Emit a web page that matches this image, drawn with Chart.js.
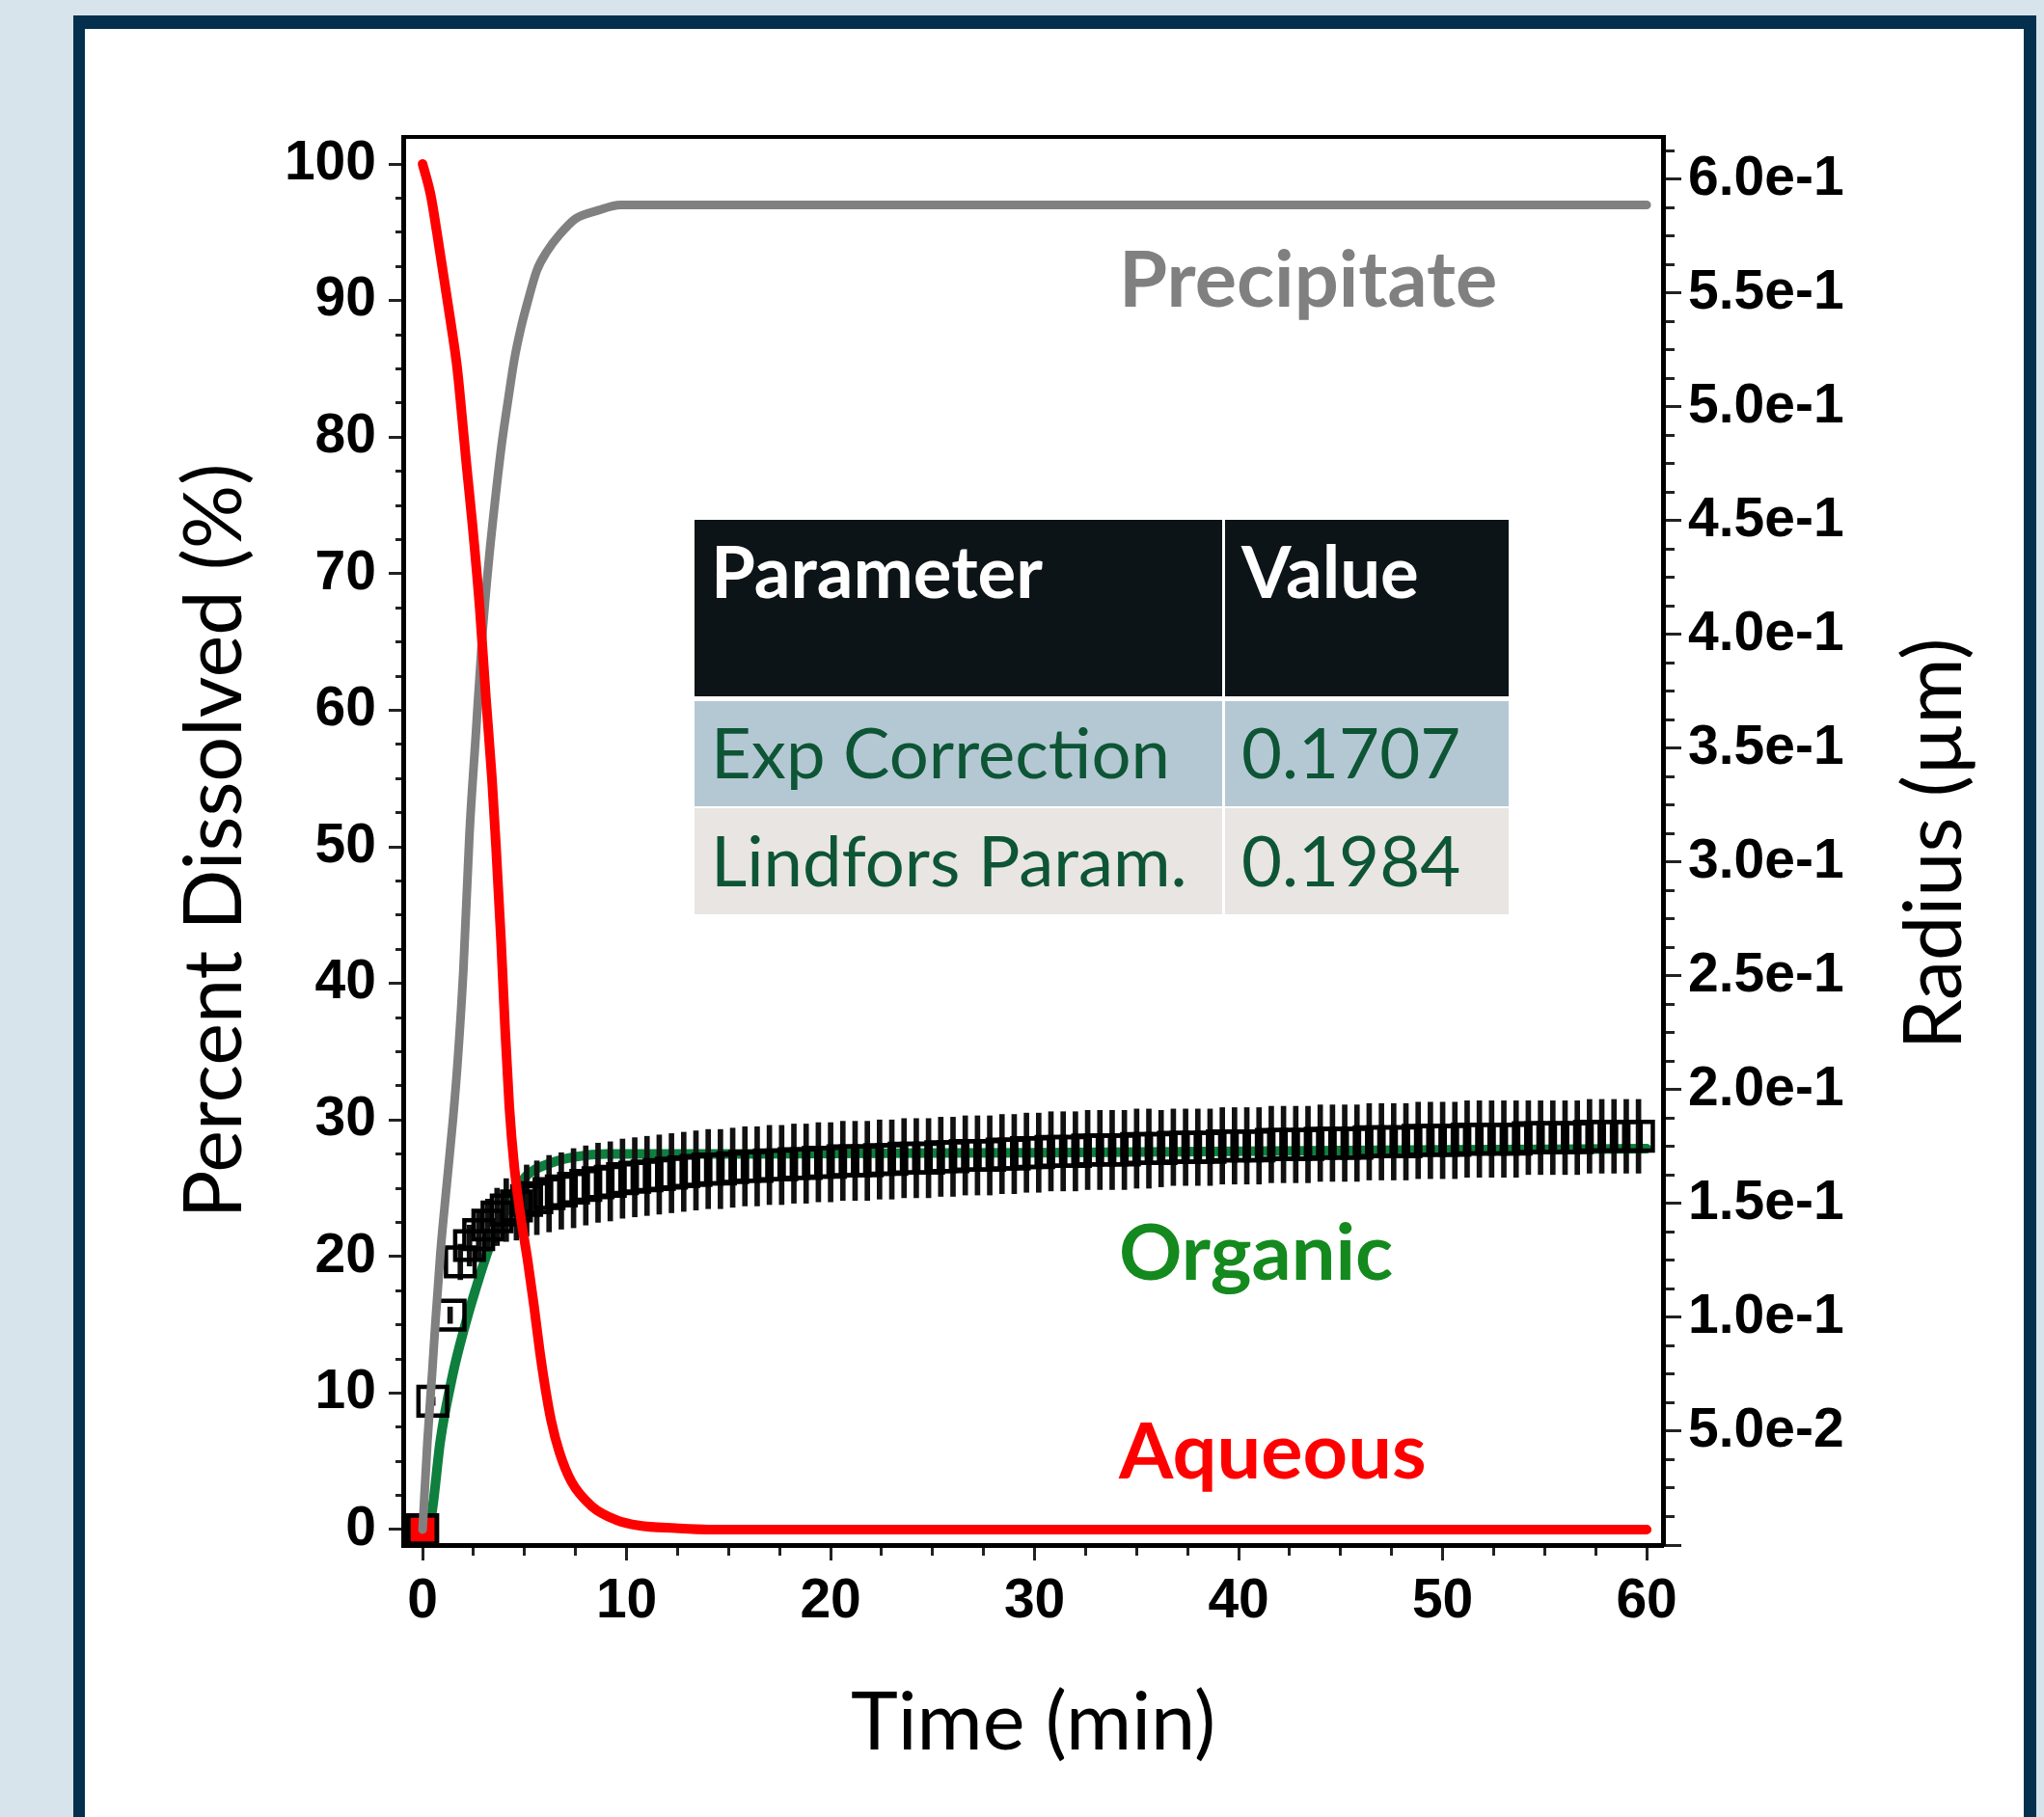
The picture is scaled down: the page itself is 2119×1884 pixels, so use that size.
<!DOCTYPE html>
<html>
<head>
<meta charset="utf-8">
<title>Percent dissolved vs time</title>
<script src="https://cdn.jsdelivr.net/npm/chart.js@4.4.1/dist/chart.umd.min.js"></script>
<style>
  html, body { margin:0; padding:0; width:2119px; height:1884px; overflow:hidden; background:#d7e4ec; }
  #frame { position:absolute; left:76px; top:16px; width:2010px; height:1900px; background:#ffffff;
           border-left:12px solid #04304e; border-top:14px solid #04304e; border-right:13px solid #04304e; }
  #wrap { position:absolute; left:0; top:0; width:2119px; height:1884px; }
  #overlay { position:absolute; left:0; top:0; width:2119px; height:1884px; pointer-events:none; }
  .lbl { position:absolute; white-space:nowrap; }
  .cell { position:absolute; }
</style>
</head>
<body>
<div id="frame"></div>
<div id="wrap"><canvas id="chart" width="2119" height="1884"></canvas></div>
<div id="overlay"></div>
<script>
// ---------------- data ----------------
const timeTicks = [0, 10, 20, 30, 40, 50, 60];
const percentTicks = [0, 10, 20, 30, 40, 50, 60, 70, 80, 90, 100];
const radiusTicks = [0.05, 0.10, 0.15, 0.20, 0.25, 0.30, 0.35, 0.40, 0.45, 0.50, 0.55, 0.60];
const radiusTickLabels = ['5.0e-2', '1.0e-1', '1.5e-1', '2.0e-1', '2.5e-1', '3.0e-1',
                          '3.5e-1', '4.0e-1', '4.5e-1', '5.0e-1', '5.5e-1', '6.0e-1'];

// Aqueous (model, red)
const aqueousTime  = [0, 0.4, 0.7, 1.04, 1.4, 1.7, 1.9, 2.15, 2.45, 2.8,
                      3.1, 3.4, 3.6, 3.85, 4.05, 4.25, 4.5, 4.8, 5.15, 5.45,
                      5.75, 6.0, 6.3, 6.7, 7.3, 8.3, 9.5, 10.6, 12.4, 14,
                      20, 30, 40, 50, 60];
const aqueousModel = [100, 97.7, 95, 91.7, 88.2, 85, 82, 78, 73.5, 67.5,
                      61, 55, 50, 43, 36.5, 31, 26.5, 23, 19.7, 16.5,
                      13, 10.5, 8, 5.7, 3.5, 1.7, 0.7, 0.3, 0.1, 0,
                      0, 0, 0, 0, 0];

// Precipitate (model, gray)
const precipitateTime  = [0, 0.24, 0.47, 0.63, 0.87, 1.18, 1.5, 1.73, 2.0, 2.3,
                          2.6, 2.93, 3.25, 3.55, 3.88, 4.2, 4.5, 4.82, 5.15, 5.6,
                          6.1, 6.7, 7.5, 8.6, 9.7, 20, 30, 40, 50, 60];
const precipitateModel = [0, 6.5, 11.5, 15.2, 20.2, 25.2, 30.2, 34.5, 41, 51,
                          58, 65.5, 71, 75.3, 79.5, 82.8, 85.7, 88, 89.9, 92.2,
                          93.6, 94.8, 96, 96.6, 97, 97, 97, 97, 97, 97];

// Organic (model, green)
const organicTime  = [0, 0.3, 0.5, 0.87, 1.5, 2.0, 2.6, 3.3, 3.9, 4.4,
                      5.15, 6.2, 7.5, 9, 15, 20, 30, 40, 50, 60];
const organicModel = [0, 0, 1.7, 6.5, 11.5, 14.5, 17.6, 20.8, 22.8, 24.4,
                      26.0, 26.8, 27.3, 27.5, 27.5, 27.55, 27.6, 27.7, 27.8, 27.9];

// Organic (measured, squares with error bars)
const organicDataTime = [0, 0.5, 1.35, 1.85, 2.3, 2.75, 3.2, 3.65, 4.1, 4.6, 5.1, 5.6,
  6.2, 6.8, 7.4, 8.0, 8.6, 9.2, 9.8, 10.4, 11.0, 11.6,
  12.2, 12.8, 13.4, 14.0, 14.6, 15.2, 15.8, 16.4, 17.0, 17.6,
  18.2, 18.8, 19.4, 20.0, 20.6, 21.2, 21.8, 22.4, 23.0, 23.6,
  24.2, 24.8, 25.4, 26.0, 26.6, 27.2, 27.8, 28.4, 29.0, 29.6,
  30.2, 30.8, 31.4, 32.0, 32.6, 33.2, 33.8, 34.4, 35.0, 35.6,
  36.2, 36.8, 37.4, 38.0, 38.6, 39.2, 39.8, 40.4, 41.0, 41.6,
  42.2, 42.8, 43.4, 44.0, 44.6, 45.2, 45.8, 46.4, 47.0, 47.6,
  48.2, 48.8, 49.4, 50.0, 50.6, 51.2, 51.8, 52.4, 53.0, 53.6,
  54.2, 54.8, 55.4, 56.0, 56.6, 57.2, 57.8, 58.4, 59.0, 59.6];
const organicData = [0, 9.4, 15.7, 19.6, 20.8, 21.6, 22.3, 22.9, 23.4, 23.7, 24.1, 24.3,
  24.6, 24.8, 25.0, 25.2, 25.4, 25.5, 25.7, 25.8, 25.9, 26.0,
  26.1, 26.2, 26.3, 26.4, 26.4, 26.5, 26.6, 26.6, 26.7, 26.7,
  26.8, 26.8, 26.9, 26.9, 27.0, 27.0, 27.0, 27.1, 27.1, 27.2,
  27.2, 27.2, 27.3, 27.3, 27.4, 27.4, 27.4, 27.5, 27.5, 27.6,
  27.6, 27.7, 27.7, 27.7, 27.8, 27.8, 27.8, 27.8, 27.9, 27.9,
  27.9, 28.0, 28.0, 28.0, 28.0, 28.1, 28.1, 28.1, 28.1, 28.2,
  28.2, 28.2, 28.2, 28.3, 28.3, 28.3, 28.3, 28.4, 28.4, 28.4,
  28.4, 28.5, 28.5, 28.5, 28.5, 28.6, 28.6, 28.6, 28.6, 28.6,
  28.7, 28.7, 28.7, 28.7, 28.7, 28.8, 28.8, 28.8, 28.8, 28.8];
const organicError = [0, 0.3, 0.6, 1.3, 1.5, 1.7, 1.9, 2.1, 2.3, 2.5, 2.6, 2.7,
  2.8, 2.8, 2.9, 2.9, 2.9, 2.9, 2.9, 2.9, 2.9, 2.9,
  2.9, 2.9, 2.9, 2.9, 2.9, 2.9, 2.9, 2.9, 2.9, 2.9,
  2.9, 2.9, 2.9, 2.9, 2.9, 2.9, 2.9, 2.9, 2.9, 2.9,
  2.9, 2.9, 2.9, 2.9, 2.9, 2.9, 2.9, 2.9, 2.9, 2.9,
  2.9, 2.9, 2.9, 2.9, 2.9, 2.9, 2.9, 2.9, 2.9, 2.9,
  2.8, 2.8, 2.8, 2.8, 2.8, 2.8, 2.8, 2.8, 2.8, 2.8,
  2.8, 2.8, 2.8, 2.8, 2.8, 2.8, 2.8, 2.8, 2.8, 2.8,
  2.8, 2.8, 2.8, 2.8, 2.8, 2.8, 2.8, 2.8, 2.8, 2.8,
  2.7, 2.7, 2.7, 2.7, 2.7, 2.7, 2.7, 2.7, 2.7, 2.7];

// Aqueous (measured point at origin)
const aqueousDataTime = [0];
const aqueousData = [0];

// Text content
const axisTitles = { x: 'Time (min)', y: 'Percent Dissolved (%)', y2: 'Radius (µm)' };
const seriesLabels = ['Precipitate', 'Organic', 'Aqueous'];
const tableHeader = ['Parameter', 'Value'];
const tableRows = [['Exp Correction', '0.1707'], ['Lindfors Param.', '0.1984']];

// ---------------- layout ----------------
const W = 2119, H = 1884;
const AREA = { left: 418, top: 142, right: 1724, bottom: 1602 };
const PAD = { left: 150, right: 145, bottom: 40 };
const Y_W = AREA.left - PAD.left;
const Y2_W = W - PAD.right - AREA.right;
const X_H = H - PAD.bottom - AREA.bottom;
const X_MIN = -0.95, X_MAX = 60.8, Y_MIN = -1.13, Y_MAX = 101.98, R_MIN = 0, R_MAX = 0.6186;

const FAM = 'Lato';
const TICK_FAM = "'Liberation Sans', Arial, sans-serif";
const mctx = document.createElement('canvas').getContext('2d');
function measure(text, weight, size, family) {
  mctx.font = weight + ' ' + size + 'px ' + family;
  return mctx.measureText(text);
}
function fitSize(text, weight, family, width) {
  return 100 * width / measure(text, weight, 100, family).width;
}
const overlay = document.getElementById('overlay');
function placeText(text, o) {
  const el = document.createElement('div');
  el.className = 'lbl';
  el.textContent = text;
  const m = measure(text, o.weight, o.size, o.family);
  const A = m.fontBoundingBoxAscent, D = m.fontBoundingBoxDescent;
  el.style.font = o.weight + ' ' + o.size + 'px ' + o.family;
  el.style.lineHeight = (A + D) + 'px';
  el.style.color = o.color;
  if (o.rotate) {
    el.style.width = m.width + 'px';
    el.style.left = (o.cx - m.width / 2) + 'px';
    el.style.top = (o.cy - (A + D) / 2) + 'px';
    el.style.transform = 'rotate(-90deg)';
    el.style.transformOrigin = '50% 50%';
  } else {
    el.style.left = o.left + 'px';
    el.style.top = (o.baseline - A) + 'px';
  }
  overlay.appendChild(el);
  return el;
}

// axis title size (Calibri-like widths)
const titleSize = (fitSize(axisTitles.x, 'normal', FAM, 386) +
                   fitSize(axisTitles.y, 'normal', FAM, 768) +
                   fitSize(axisTitles.y2, 'normal', FAM, 426)) / 3;
const titleLH = titleSize * 1.2;

const fixW = w => s => { s.width = w; s.paddingTop = 0; s.paddingBottom = 0; s.paddingLeft = 0; s.paddingRight = 0; };
const fixH = h => s => { s.height = h; s.paddingTop = 0; s.paddingBottom = 0; s.paddingLeft = 0; s.paddingRight = 0; };

const tickFont = { family: TICK_FAM, size: 57, weight: 'bold' };
const TICK_COLOR = '#222';

function pts(xs, ys) { return xs.map((x, i) => ({ x: x, y: ys[i] })); }

const cfg = {
  type: 'line',
  data: {
    datasets: [
      { label: 'Aqueous', data: pts(aqueousTime, aqueousModel), borderColor: '#ff0000', borderWidth: 10,
        pointRadius: 0, cubicInterpolationMode: 'monotone', borderCapStyle: 'round', borderJoinStyle: 'round',
        xAxisID: 'x', yAxisID: 'y', order: 0 },
      { label: 'Precipitate', data: pts(precipitateTime, precipitateModel), borderColor: '#808080', borderWidth: 9,
        pointRadius: 0, cubicInterpolationMode: 'monotone', borderCapStyle: 'round', borderJoinStyle: 'round',
        xAxisID: 'x', yAxisID: 'y', order: 1 },
      { label: 'Organic (measured)', data: pts(organicDataTime, organicData), showLine: false,
        pointStyle: 'rect', pointRadius: 21, pointBorderWidth: 4.5, pointBorderColor: '#000',
        pointBackgroundColor: 'rgba(0,0,0,0)', xAxisID: 'x', yAxisID: 'y', order: 2 },
      { label: 'Aqueous (measured)', data: pts(aqueousDataTime, aqueousData), showLine: false,
        pointStyle: 'rect', pointRadius: 21, pointBorderWidth: 4.5, pointBorderColor: '#000',
        pointBackgroundColor: '#ff0000', xAxisID: 'x', yAxisID: 'y', order: 3 },
      { type: 'bar', label: 'Organic error', xAxisID: 'x', yAxisID: 'y', order: 4,
        data: organicDataTime.map((t, i) => ({ x: t, y: [organicData[i] - organicError[i], organicData[i] + organicError[i]] })),
        backgroundColor: '#111', borderWidth: 0, barThickness: 5, grouped: false },
      { label: 'Organic', data: pts(organicTime, organicModel), borderColor: '#0e7f3d', borderWidth: 10,
        pointRadius: 0, cubicInterpolationMode: 'monotone', borderCapStyle: 'round', borderJoinStyle: 'round',
        xAxisID: 'x', yAxisID: 'y', order: 5 }
    ]
  },
  options: {
    responsive: false,
    devicePixelRatio: 1,
    animation: false,
    events: [],
    layout: { padding: { left: PAD.left, right: PAD.right, top: AREA.top, bottom: PAD.bottom } },
    plugins: { legend: { display: false }, tooltip: { enabled: false }, title: { display: false } },
    scales: {
      x: {
        type: 'linear', position: 'bottom', weight: 10, min: X_MIN, max: X_MAX, offset: false,
        ticks: { stepSize: 10, includeBounds: false, autoSkip: false, maxRotation: 0, minRotation: 0,
                 font: tickFont, color: '#000', padding: 9,
                 callback: v => timeTicks.includes(v) ? String(v) : '' },
        grid: { drawOnChartArea: false, tickLength: 16, tickWidth: 3, tickColor: TICK_COLOR, offset: false },
        border: { display: true, width: 5, color: '#000' },
        title: { display: true, text: axisTitles.x, color: '#000', font: { family: FAM, size: titleSize, weight: 'normal' },
                 padding: { top: 0, bottom: Math.max(0, (H - PAD.bottom) - 1787 - titleLH / 2) } },
        afterFit: fixH(X_H)
      },
      xMinor: {
        type: 'linear', position: 'bottom', weight: 0, min: X_MIN, max: X_MAX, offset: false,
        ticks: { stepSize: 2.5, includeBounds: false, autoSkip: false, maxRotation: 0, font: { size: 1 }, callback: () => '' },
        grid: { drawOnChartArea: false, tickLength: 11, tickWidth: 3, tickColor: TICK_COLOR },
        border: { display: false },
        afterFit: fixH(0)
      },
      xTop: {
        type: 'linear', position: 'top', min: X_MIN, max: X_MAX,
        ticks: { display: false },
        grid: { drawOnChartArea: false, drawTicks: false },
        border: { display: true, width: 4, color: '#000' },
        afterFit: fixH(0)
      },
      y: {
        type: 'linear', position: 'left', weight: 10, min: Y_MIN, max: Y_MAX,
        ticks: { stepSize: 10, includeBounds: false, autoSkip: false, font: tickFont, color: '#000', padding: 13,
                 callback: v => percentTicks.includes(v) ? String(v) : '' },
        grid: { drawOnChartArea: false, tickLength: 15, tickWidth: 3, tickColor: TICK_COLOR },
        border: { display: true, width: 5, color: '#000' },
        title: { display: true, text: axisTitles.y, color: '#000', font: { family: FAM, size: titleSize, weight: 'normal' },
                 padding: { top: Math.max(0, 223 - PAD.left - titleLH / 2), bottom: 0 } },
        afterFit: fixW(Y_W)
      },
      yMinor: {
        type: 'linear', position: 'left', weight: 0, min: Y_MIN, max: Y_MAX,
        ticks: { stepSize: 2.5, includeBounds: false, autoSkip: false, font: { size: 1 }, callback: () => '' },
        grid: { drawOnChartArea: false, tickLength: 8, tickWidth: 3, tickColor: TICK_COLOR },
        border: { display: false },
        afterFit: fixW(0)
      },
      y2: {
        type: 'linear', position: 'right', weight: 10, min: R_MIN, max: R_MAX,
        ticks: { stepSize: 0.05, includeBounds: false, autoSkip: false, font: tickFont, color: '#000', padding: 7,
                 callback: v => { const i = radiusTicks.findIndex(t => Math.abs(t - v) < 1e-9); return i < 0 ? '' : radiusTickLabels[i]; } },
        grid: { drawOnChartArea: false, tickLength: 19, tickWidth: 3, tickColor: TICK_COLOR },
        border: { display: true, width: 5, color: '#000' },
        afterFit: fixW(Y2_W)
      },
      y2Minor: {
        type: 'linear', position: 'right', weight: 0, min: R_MIN, max: R_MAX,
        ticks: { stepSize: 0.0125, includeBounds: false, autoSkip: false, font: { size: 1 }, callback: () => '' },
        grid: { drawOnChartArea: false, tickLength: 12, tickWidth: 3, tickColor: TICK_COLOR },
        border: { display: false },
        afterFit: fixW(0)
      }
    }
  }
};

new Chart(document.getElementById('chart'), cfg);

// right axis title (reads bottom-to-top)
placeText(axisTitles.y2, { weight: 'normal', size: titleSize, family: FAM, color: '#000', rotate: true, cx: 2001, cy: 875 });

// series annotations
const annSize = (fitSize(seriesLabels[0], 'bold', FAM, 394) + fitSize(seriesLabels[1], 'bold', FAM, 279) +
                 fitSize(seriesLabels[2], 'bold', FAM, 323)) / 3;
placeText(seriesLabels[0], { weight: 'bold', size: annSize, family: FAM, color: '#808080', left: 1160, baseline: 318 });
placeText(seriesLabels[1], { weight: 'bold', size: annSize, family: FAM, color: '#14891e', left: 1160, baseline: 1327 });
placeText(seriesLabels[2], { weight: 'bold', size: annSize, family: FAM, color: '#ff0000', left: 1160, baseline: 1533 });

// parameter table
function cell(l, t, w, h, bg) {
  const d = document.createElement('div');
  d.className = 'cell';
  d.style.left = l + 'px'; d.style.top = t + 'px'; d.style.width = w + 'px'; d.style.height = h + 'px';
  d.style.background = bg;
  overlay.appendChild(d);
}
const colX = [720, 1270], colW = [547, 294];
const rowY = [539, 727, 838], rowH = [183, 109, 110];
const rowBg = ['#0d1417', '#b4c8d4', '#e8e5e2'];
for (let r = 0; r < 3; r++) for (let c = 0; c < 2; c++) cell(colX[c], rowY[r], colW[c], rowH[r], rowBg[r]);

const headSize = fitSize(tableHeader[0], 'bold', FAM, 344);
const bodySize = (fitSize(tableRows[0][0], 'normal', FAM, 473) + fitSize(tableRows[1][0], 'normal', FAM, 497)) / 2;
const textX = [737, 1287];
const baselines = [620, 807, 919];
tableHeader.forEach((t, c) => placeText(t, { weight: 'bold', size: headSize, family: FAM, color: '#ffffff', left: textX[c], baseline: baselines[0] }));
tableRows.forEach((row, r) => row.forEach((t, c) =>
  placeText(t, { weight: 'normal', size: bodySize, family: FAM, color: '#0d5535', left: textX[c], baseline: baselines[r + 1] })));
</script>
</body>
</html>
